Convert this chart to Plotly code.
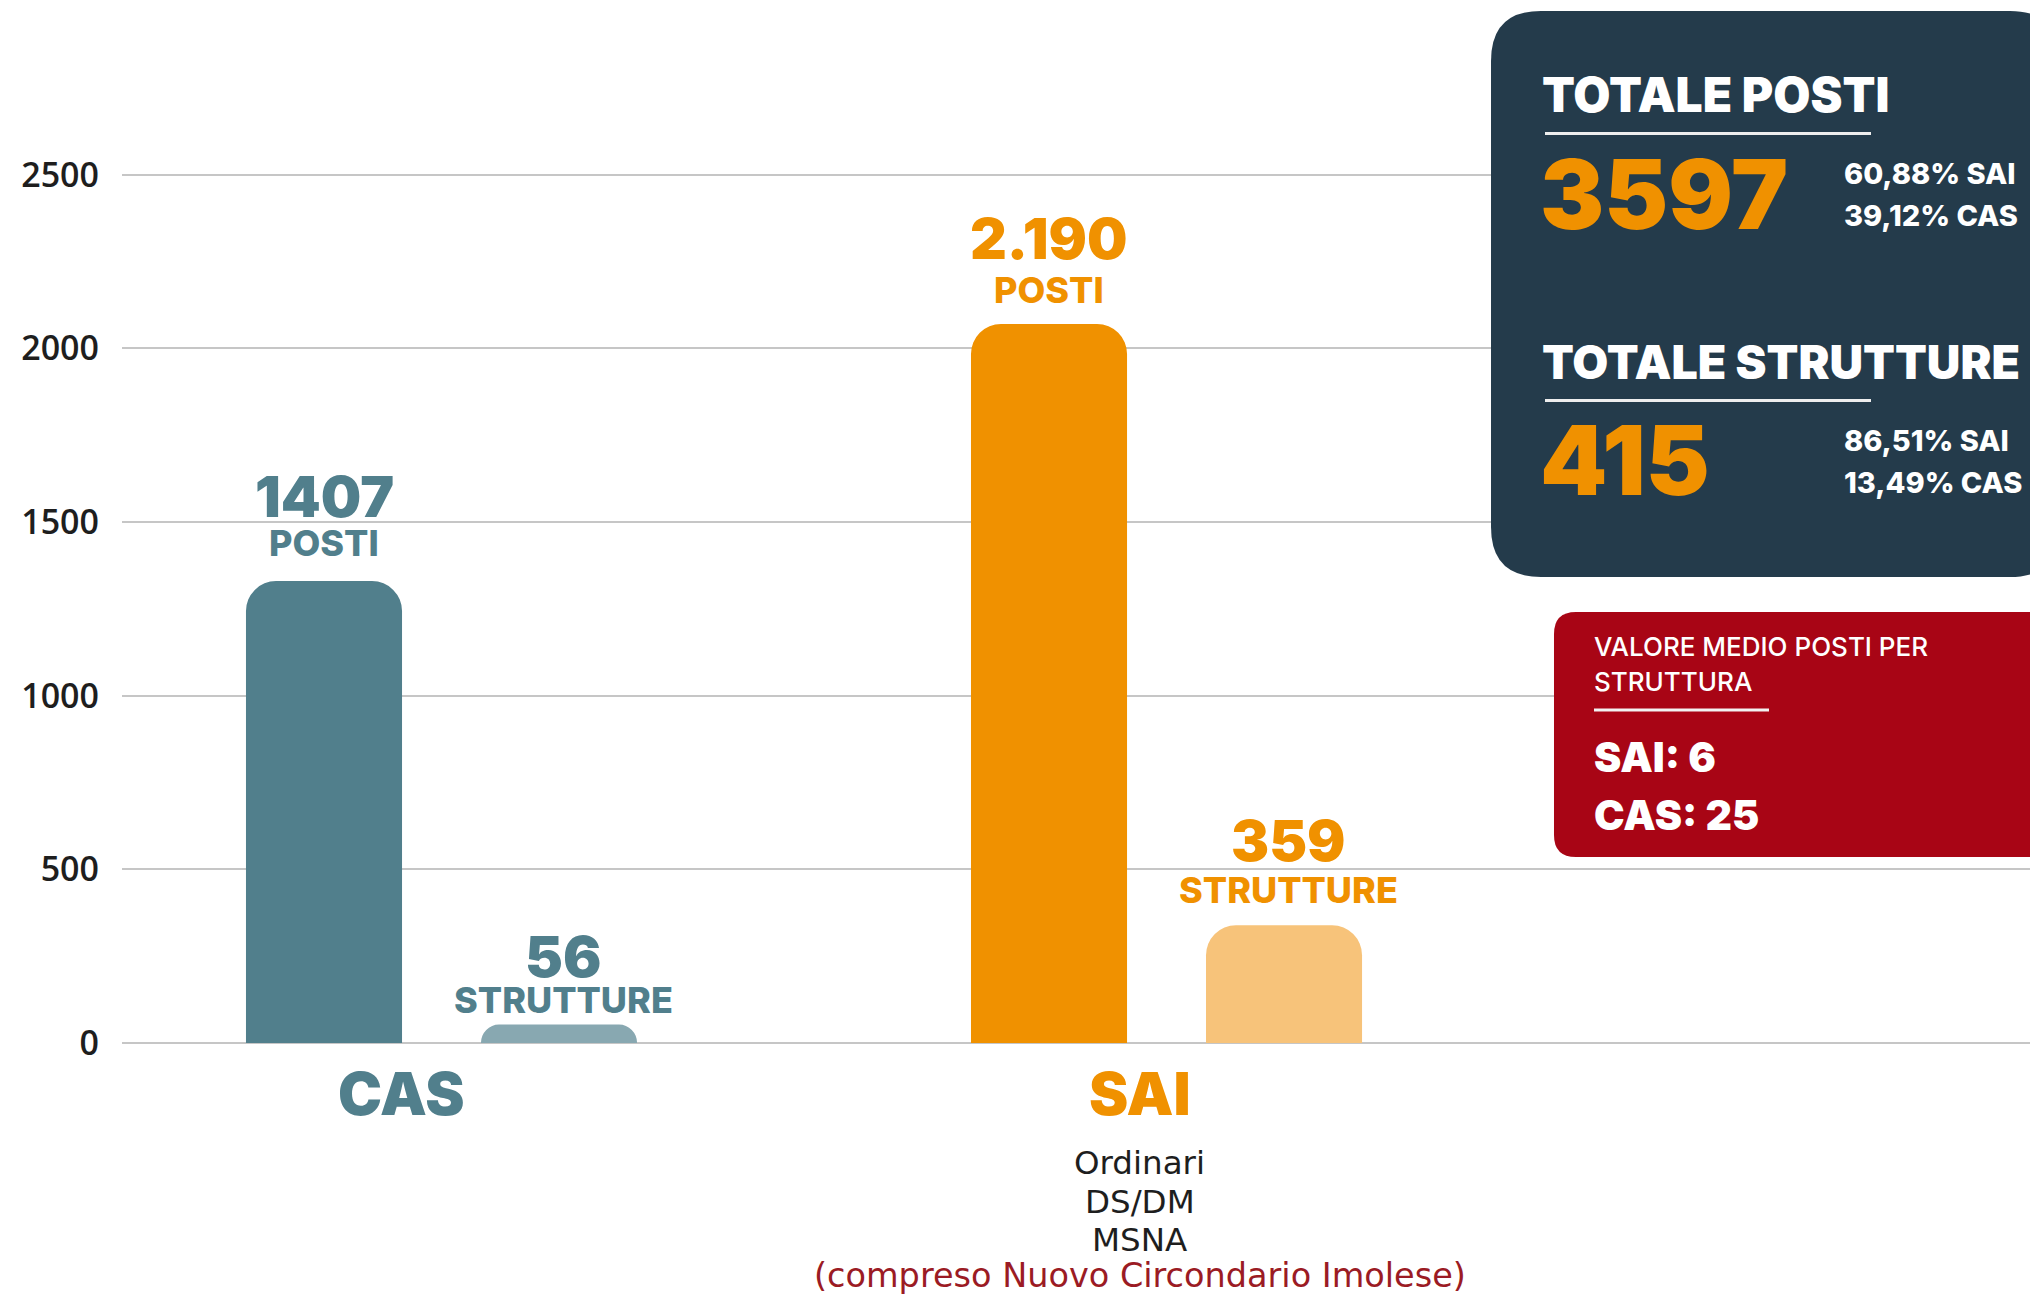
import plotly.graph_objects as go

# ---------------- data ----------------
categories = ["CAS", "SAI"]
posti = [1407, 2190]
strutture = [56, 359]
posti_text = ["1407", "2.190"]
strutture_text = ["56", "359"]
y_ticks = [0, 500, 1000, 1500, 2000, 2500]
sai_details = ["Ordinari", "DS/DM", "MSNA"]
sai_note = "(compreso Nuovo Circondario Imolese)"

# ---------------- styles ----------------
colors_posti = ["#517f8c", "#f09100"]
colors_strutture = ["#88a8b1", "#f7c37a"]
label_colors = ["#517f8c", "#f09100"]
DARK = "#243b4b"
RED = "#a80515"
ORANGE = "#f09100"
GRID = "#c6c6c6"

W, H = 2030, 1294
ML, MR, MT, MB = 122, 0, 1, 251
PW = W - ML - MR
PH = H - MT - MB


def px(x):
    return (x - ML) / PW


def py(y):
    return (H - MB - y) / PH


def pct(a, b):
    return f"{100 * a / b:.2f}".replace(".", ",") + "%"


tot_posti = sum(posti)
tot_strutture = sum(strutture)
i_cas, i_sai = categories.index("CAS"), categories.index("SAI")
quote_posti = [f"{pct(posti[i_sai], tot_posti)} SAI", f"{pct(posti[i_cas], tot_posti)} CAS"]
quote_strutture = [f"{pct(strutture[i_sai], tot_strutture)} SAI",
                   f"{pct(strutture[i_cas], tot_strutture)} CAS"]
medio = [f"SAI: {round(posti[i_sai] / strutture[i_sai])}",
         f"CAS: {round(posti[i_cas] / strutture[i_cas])}"]

BARGAP = 0.3517
BARGROUPGAP = 0.336
OFF = (1 - BARGAP) / 4

fig = go.Figure()
fig.add_trace(go.Bar(x=categories, y=posti, name="Posti",
                     marker=dict(color=colors_posti, cornerradius=30, line_width=0),
                     hoverinfo="x+y", yaxis="y"))
fig.add_trace(go.Bar(x=categories, y=strutture, name="Strutture",
                     marker=dict(color=colors_strutture, cornerradius=30, line_width=0),
                     hoverinfo="x+y", yaxis="y"))
# carrier for the gridded value axis
fig.add_trace(go.Scatter(x=categories, y=[None, None], yaxis="y2", mode="markers",
                         showlegend=False, hoverinfo="skip"))

annotations = []


def ann(text, x, y, size, color, weight=400, family="Inter", xanchor="left",
        xref="paper", yref="paper", xshift=0, yshift=0):
    annotations.append(dict(text=text, x=x, y=y, xref=xref, yref=yref,
                            xanchor=xanchor, yanchor="middle", showarrow=False,
                            xshift=xshift, yshift=yshift,
                            font=dict(family=family, size=size, color=color, weight=weight)))


# bar labels (pixel offsets above each bar top)
posti_val_shift = [85, 86]
posti_lab_shift = [38, 34]
strut_val_shift = [68, 85]
strut_lab_shift = [25, 35]
for i in range(len(categories)):
    ann(posti_text[i], i - OFF, posti[i], 57, label_colors[i], 900, xanchor="center",
        xref="x", yref="y", yshift=posti_val_shift[i])
    ann("POSTI", i - OFF, posti[i], 36, label_colors[i], 800, xanchor="center",
        xref="x", yref="y", yshift=posti_lab_shift[i])
    ann(strutture_text[i], i + OFF, strutture[i], 57, label_colors[i], 900, xanchor="center",
        xref="x", yref="y", yshift=strut_val_shift[i], xshift=4)
    ann("STRUTTURE", i + OFF, strutture[i], 36, label_colors[i], 800, xanchor="center",
        xref="x", yref="y", yshift=strut_lab_shift[i], xshift=4)

# category labels
cat_shift = [-40, -27]
for i, c in enumerate(categories):
    ann(c, i, 0, 59, label_colors[i], 900, xanchor="center", xref="x", yref="paper",
        xshift=cat_shift[i], yshift=-50)
for k, line in enumerate(sai_details):
    ann(line, i_sai, 0, 32.5, "#1e1e1e", 400, family="DejaVu Sans", xanchor="center",
        xref="x", yref="paper", xshift=cat_shift[i_sai], yshift=-(120 + 38.5 * k))
ann(sai_note, i_sai, 0, 33.5, "#9b1b24", 400, family="DejaVu Sans", xanchor="center",
    xref="x", yref="paper", xshift=cat_shift[i_sai], yshift=-232)

# dark totals box
ann("TOTALE POSTI", px(1540), py(95), 48, "white", 900)
ann(str(tot_posti), px(1538), py(194), 96, ORANGE, 900)
ann(quote_posti[0], px(1842), py(173.5), 29, "white", 800)
ann(quote_posti[1], px(1842), py(215.5), 29, "white", 800)
ann("TOTALE STRUTTURE", px(1540), py(362), 46.5, "white", 900)
ann(str(tot_strutture), px(1538), py(460), 96, ORANGE, 900)
ann(quote_strutture[0], px(1842), py(441), 29, "white", 800)
ann(quote_strutture[1], px(1842), py(483), 29, "white", 800)

# red box
ann("VALORE MEDIO POSTI PER", px(1592), py(646), 26, "white", 500)
ann("STRUTTURA", px(1592), py(681), 26, "white", 500)
ann(medio[0], px(1592), py(756.5), 41, "white", 900)
ann(medio[1], px(1592), py(815), 41, "white", 900)


def rrect(x0, y0, x1, y1, r):
    pts = [("M", x0 + r, y0), ("L", x1 - r, y0), ("Q", x1, y0, x1, y0 + r),
           ("L", x1, y1 - r), ("Q", x1, y1, x1 - r, y1), ("L", x0 + r, y1),
           ("Q", x0, y1, x0, y1 - r), ("L", x0, y0 + r), ("Q", x0, y0, x0 + r, y0)]
    out = []
    for p in pts:
        cmd, coords = p[0], p[1:]
        conv = []
        for j in range(0, len(coords), 2):
            conv.append(f"{px(coords[j]):.5f},{py(coords[j + 1]):.5f}")
        out.append(cmd + " ".join(conv))
    return " ".join(out) + " Z"


shapes = [
    dict(type="path", path=rrect(1491, 11, 2060, 577, 50), xref="paper", yref="paper",
         fillcolor=DARK, line=dict(width=0), layer="above"),
    dict(type="path", path=rrect(1554, 612, 2060, 857, 22), xref="paper", yref="paper",
         fillcolor=RED, line=dict(width=0), layer="above"),
    dict(type="line", x0=px(1545), x1=px(1871), y0=py(133.5), y1=py(133.5),
         xref="paper", yref="paper", line=dict(color="#eeeeee", width=3), layer="above"),
    dict(type="line", x0=px(1545), x1=px(1871), y0=py(400.5), y1=py(400.5),
         xref="paper", yref="paper", line=dict(color="#eeeeee", width=3), layer="above"),
    dict(type="line", x0=px(1594), x1=px(1769), y0=py(710), y1=py(710),
         xref="paper", yref="paper", line=dict(color="#f2f2f2", width=3), layer="above"),
]

fig.update_layout(
    width=W, height=H, autosize=False,
    margin=dict(l=ML, r=MR, t=MT, b=MB, pad=0),
    paper_bgcolor="white", plot_bgcolor="white",
    showlegend=False,
    barmode="group", bargap=BARGAP, bargroupgap=BARGROUPGAP,
    xaxis=dict(type="category", range=[-0.4407, 2.191], showgrid=False, zeroline=False,
               showticklabels=False, showline=False, ticks=""),
    yaxis=dict(range=[0, 3174], visible=False, showgrid=False, zeroline=False),
    yaxis2=dict(overlaying="y", side="left", anchor="x", range=[0, 3000],
                tickvals=y_ticks, showgrid=True, gridcolor=GRID, gridwidth=1.5,
                zeroline=True, zerolinecolor=GRID, zerolinewidth=1.5,
                showline=False, ticks="", ticklabelstandoff=22,
                tickfont=dict(family="Open Sans", size=34, color="#1e1e1e", weight=600)),
    annotations=annotations,
    shapes=shapes,
)

fig.write_html("out.html")
